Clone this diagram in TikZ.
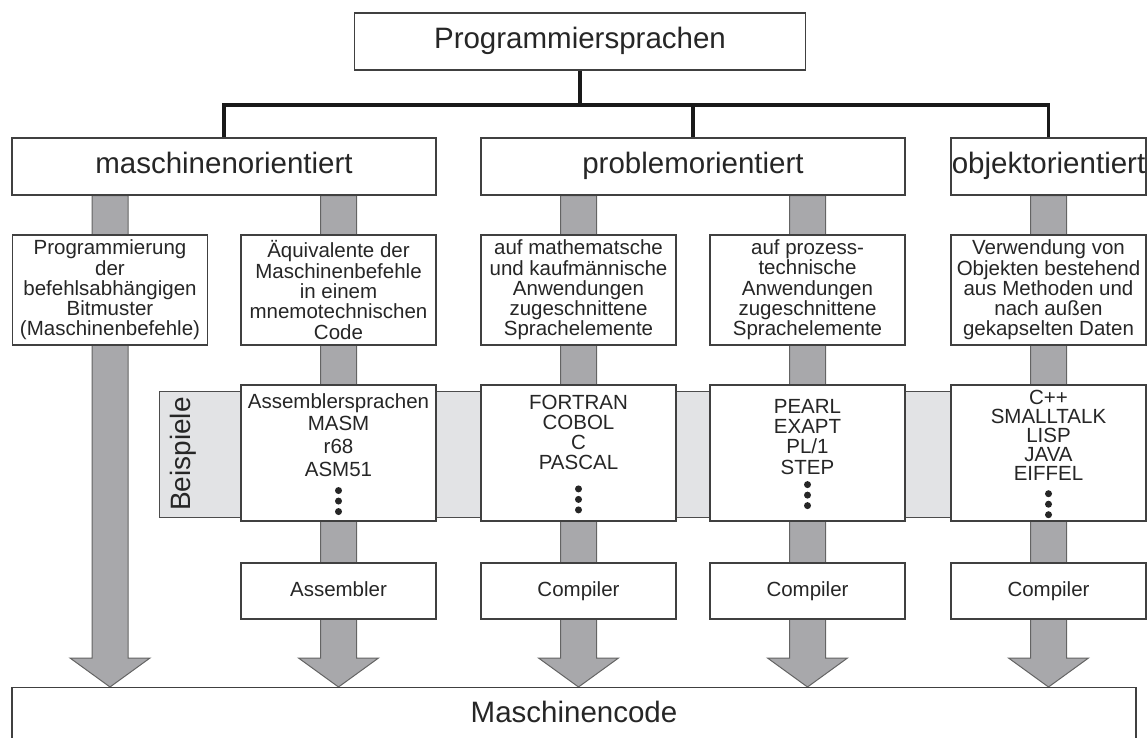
\documentclass[tikz,border=0pt]{standalone}
\usepackage{fontspec}
\setmainfont{Liberation Sans}
\usetikzlibrary{calc}
\pgfdeclarelayer{back}
\pgfsetlayers{back,main}
\definecolor{stemgray}{RGB}{168,168,171}
\definecolor{stemline}{RGB}{100,100,100}
\definecolor{bandgray}{RGB}{226,227,229}
\newcommand{\bigfont}{\fontsize{29.5}{31}\selectfont}
\newcommand{\smallfont}{\fontsize{20.5}{20.3}\selectfont}
% breiter grauer Pfeil von #1 (oben) bis Spitze #2
\newcommand{\bigarrow}[2]{%
	\draw[stemarrow] ($(#1)+(-18,0)$) -- ($(#2)+(-18,-29)$) -- ($(#2)+(-40,-29)$)
	-- (#2) -- ($(#2)+(40,-29)$) -- ($(#2)+(18,-29)$) -- ($(#1)+(18,0)$) -- cycle;}
\tikzset{
	box/.style={draw=black!75,line width=1.2pt,fill=white,inner sep=1pt,align=center,text=black!85},
	headbox/.style={box,minimum height=57pt,text height=22pt,text depth=7pt,font=\bigfont},
	descbox/.style={box,minimum width=195pt,minimum height=110pt,font=\smallfont},
	exbox/.style={box,minimum width=195pt,minimum height=136pt},
	listtext/.style={anchor=north,inner sep=0pt,align=center,text=black!85},
	transbox/.style={box,minimum width=195pt,minimum height=56pt,text height=15pt,text depth=5pt,font=\smallfont},
	treeline/.style={line width=3.5pt,black!90},
	stemarrow/.style={fill=stemgray,draw=stemline,line width=1pt},
	band/.style={fill=bandgray,draw=black!70,line width=1pt},
}
\begin{document}
\begin{tikzpicture}[x=1pt,y=-1pt]
	\useasboundingbox (0,0) rectangle (1148,738);
	\node[headbox,minimum width=451pt] (PS) at (580,41.5) {Programmiersprachen};
	\path
	(224,166.5) node[headbox,minimum width=424pt] (MO) {maschinenorientiert}   % <<< Ebene 1
	++(469,0) node[headbox,minimum width=424pt] (PO) {problemorientiert}
	++(355.5,0) node[headbox,minimum width=195pt,inner xsep=0pt] (OO) {objektorientiert}
	(110,290) node[descbox] (D1)                                                % <<< Ebene 2
	{Programmierung\\der\\befehlsabhängigen\\Bitmuster\\(Maschinenbefehle)}
	++(228.5,0) node[descbox] (D2)
	{Äquivalente der\\Maschinenbefehle\\in einem\\mnemotechnischen\\Code}
	++(240,0) node[descbox] (D3)
	{auf mathematsche\\und kaufmännische\\Anwendungen\\zugeschnittene\\Sprachelemente}
	++(229,0) node[descbox] (D4)
	{auf prozess-\\technische\\Anwendungen\\zugeschnittene\\Sprachelemente}
	++(241,0) node[descbox] (D5)
	{Verwendung von\\Objekten bestehend\\aus Methoden und\\nach außen\\gekapselten Daten}
	(338.5,453) node[exbox] (B2) {}                                             % <<< Beispiele
	++(240,0) node[exbox] (B3) {}
	++(229,0) node[exbox] (B4) {}
	++(241,0) node[exbox] (B5) {}
	(338.5,591) node[transbox] (U2) {Assembler}                                 % <<< Übersetzer
	++(240,0) node[transbox] (U3) {Compiler}
	++(229,0) node[transbox] (U4) {Compiler}
	++(241,0) node[transbox] (U5) {Compiler};
	\node[box,anchor=north,minimum width=1124pt,inner ysep=14pt,text depth=22pt,font=\bigfont]
	(MC) at (574,687) {Maschinencode};
	% Listen in den Beispielkästen
	\node[listtext,font=\fontsize{20.5}{22.7}\selectfont] (L2) at (338.5,393) {Assemblersprachen\\MASM\\r68\\ASM51};
	\node[listtext,font=\fontsize{20.5}{20}\selectfont] (L3) at (578.5,395) {FORTRAN\\COBOL\\C\\PASCAL};
	\node[listtext,font=\fontsize{20.5}{20.3}\selectfont] (L4) at (807.5,399) {PEARL\\EXAPT\\PL/1\\STEP};
	\node[listtext,font=\fontsize{20.5}{19}\selectfont] (L5) at (1048.5,390) {C++\\SMALLTALK\\LISP\\JAVA\\EIFFEL};
	\foreach \n/\d in {2/14,3/19,4/10,5/13}
	\foreach \k in {0,1,2}
	\fill[black!85] (L\n.south) ++(0,\d+10.5*\k) circle (3.5pt);
	\node[rotate=90,text=black!85,font=\fontsize{28}{28}\selectfont] (BS) at (183,454) {Beispiele};
	% Baum
	\coordinate (bar) at (0,105);
	\draw[treeline] (PS.south) -- (PS.south |- bar);
	\draw[treeline] (MO.north) |- (OO.north |- bar) -- (OO.north);
	\draw[treeline] (PO.north) -- (PO.north |- bar);
	\begin{pgfonlayer}{back}
		\draw[band] (159,391) rectangle (1000,517);
		\bigarrow{MO.south -| D1}{MC.north -| D1}
		\bigarrow{MO.south -| D2}{MC.north -| D2}
		\bigarrow{PO.south -| D3}{MC.north -| D3}
		\bigarrow{PO.south -| D4}{MC.north -| D4}
		\bigarrow{OO.south -| D5}{MC.north -| D5}
	\end{pgfonlayer}
\end{tikzpicture}
\end{document}
